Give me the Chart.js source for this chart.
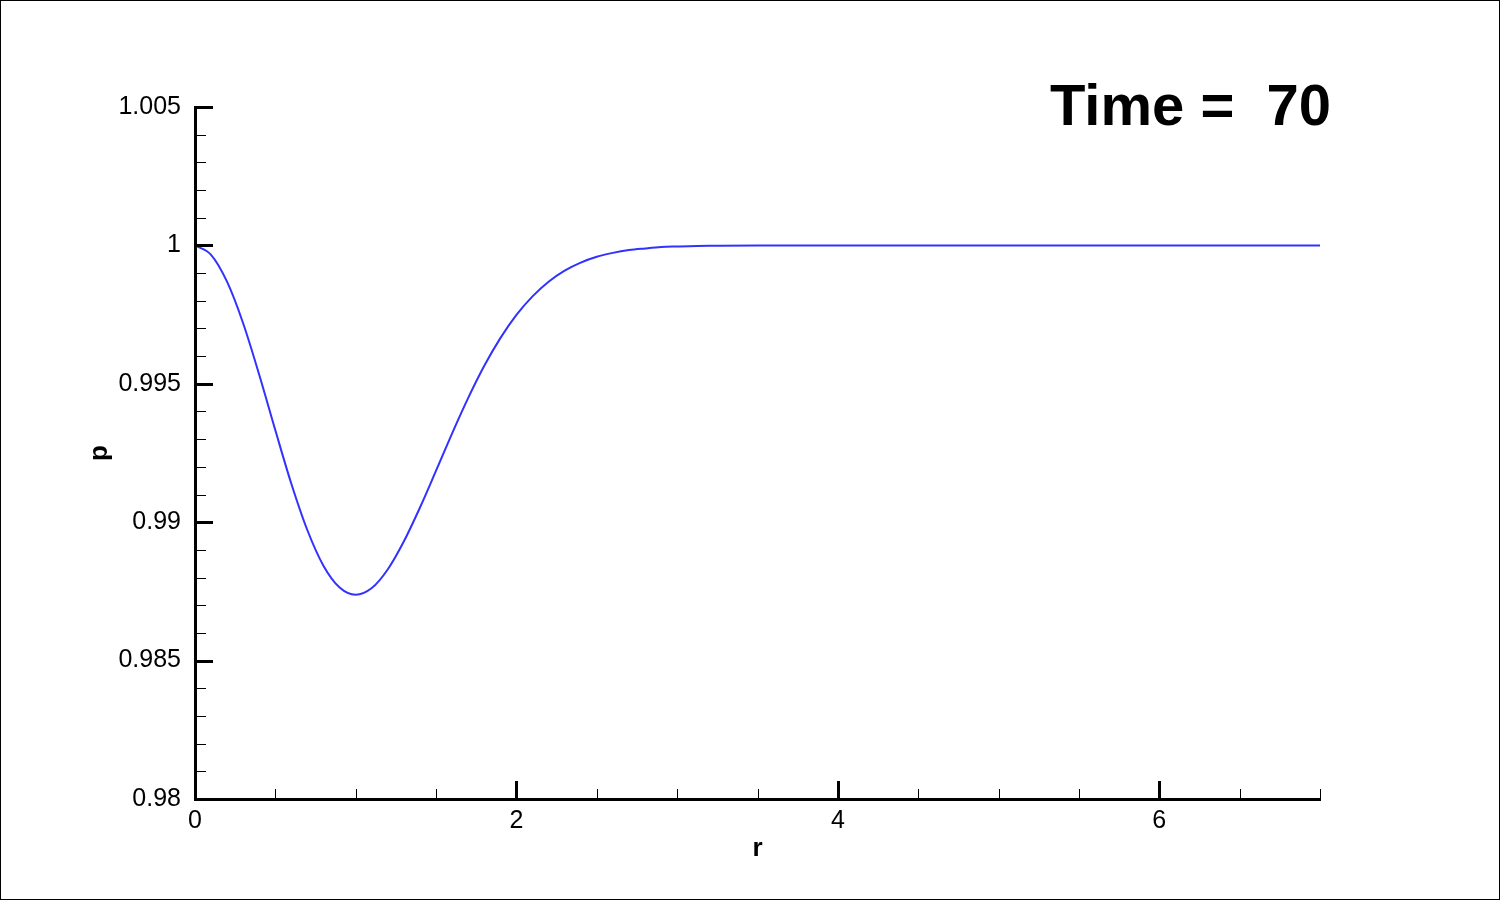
<!DOCTYPE html>
<html>
<head>
<meta charset="utf-8">
<script src="https://cdn.jsdelivr.net/npm/chart.js@4"></script>
<style>
  html, body { margin: 0; padding: 0; background: #fff; }
  #wrap { width: 1500px; height: 900px; }
</style>
</head>
<body>
<div id="wrap"><canvas id="chart" width="1500" height="900"></canvas></div>
<script>
// ---------------- DATA ----------------
const rValues = [0, 0.1, 0.2, 0.3, 0.4, 0.5, 0.6, 0.7, 0.8, 0.9,
  1.0, 1.1, 1.2, 1.3, 1.4, 1.5, 1.6, 1.7, 1.8, 1.9,
  2.0, 2.1, 2.2, 2.3, 2.4, 2.5, 2.6, 2.7, 2.8, 2.9,
  3.0, 3.2, 3.5, 4, 5, 6, 7];
const pValues = [1.0, 0.99966, 0.99868, 0.99718, 0.99532, 0.99332, 0.99138, 0.98970, 0.98842, 0.98764,
  0.98738, 0.98762, 0.98830, 0.98931, 0.99053, 0.99186, 0.99321, 0.99449, 0.99565, 0.99665,
  0.99749, 0.99816, 0.99869, 0.99909, 0.99938, 0.99959, 0.99973, 0.99983, 0.99989, 0.99994,
  0.99996, 0.99999, 1.0, 1.0, 1.0, 1.0, 1.0];

const xMajorTicks = [0, 2, 4, 6];
const xMinorTicks = [0.5, 1, 1.5, 2.5, 3, 3.5, 4.5, 5, 5.5, 6.5, 7];
const yMajorTicks = [0.98, 0.985, 0.99, 0.995, 1.0, 1.005];
const yMinorTicks = [0.981, 0.982, 0.983, 0.984, 0.986, 0.987, 0.988, 0.989,
  0.991, 0.992, 0.993, 0.994, 0.996, 0.997, 0.998, 0.999,
  1.001, 1.002, 1.003, 1.004];

const xTitle = 'r';
const yTitle = 'p';
const timeLabel = 'Time =  70';

const FONT = '"Liberation Sans", Arial, Helvetica, sans-serif';

// ---------------- PLUGINS ----------------
// inward major/minor tick marks, the time label and the outer frame
const decorPlugin = {
  id: 'decor',
  afterDraw(chart) {
    const ctx = chart.ctx;
    const xs = chart.scales.x;
    const ys = chart.scales.y;
    const area = chart.chartArea;
    ctx.save();
    ctx.strokeStyle = '#000';
    ctx.lineCap = 'butt';

    // y ticks
    yMinorTicks.forEach(v => {
      const y = Math.round(ys.getPixelForValue(v)) + 0.5;
      ctx.lineWidth = 1;
      ctx.beginPath(); ctx.moveTo(area.left, y); ctx.lineTo(area.left + 11, y); ctx.stroke();
    });
    yMajorTicks.forEach(v => {
      const y = Math.round(ys.getPixelForValue(v)) + 0.5;
      ctx.lineWidth = 3;
      ctx.beginPath(); ctx.moveTo(area.left, y); ctx.lineTo(area.left + 18, y); ctx.stroke();
    });

    // x ticks
    xMinorTicks.forEach(v => {
      const x = Math.round(xs.getPixelForValue(v)) + 0.5;
      ctx.lineWidth = 1;
      ctx.beginPath(); ctx.moveTo(x, area.bottom); ctx.lineTo(x, area.bottom - 10); ctx.stroke();
    });
    xMajorTicks.forEach(v => {
      const x = Math.round(xs.getPixelForValue(v)) + 0.5;
      ctx.lineWidth = 3;
      ctx.beginPath(); ctx.moveTo(x, area.bottom); ctx.lineTo(x, area.bottom - 18); ctx.stroke();
    });

    // time label
    ctx.fillStyle = '#000';
    ctx.font = 'bold 58px ' + FONT;
    ctx.textAlign = 'right';
    ctx.textBaseline = 'alphabetic';
    ctx.fillText(timeLabel, 1331, 125);

    // frame
    ctx.lineWidth = 1;
    ctx.strokeRect(0.5, 0.5, chart.width - 1, chart.height - 1);
    ctx.restore();
  }
};

const bgPlugin = {
  id: 'bg',
  beforeDraw(chart) {
    const ctx = chart.ctx;
    ctx.save();
    ctx.fillStyle = '#fff';
    ctx.fillRect(0, 0, chart.width, chart.height);
    ctx.restore();
  }
};

// ---------------- CHART ----------------
const points = rValues.map((r, i) => ({ x: r, y: pValues[i] }));

new Chart(document.getElementById('chart').getContext('2d'), {
  type: 'line',
  data: {
    datasets: [{
      label: 'p',
      data: points,
      borderColor: 'rgb(50, 50, 255)',
      borderWidth: 2,
      pointRadius: 0,
      fill: false,
      cubicInterpolationMode: 'monotone'
    }]
  },
  options: {
    responsive: false,
    animation: false,
    layout: { padding: { left: 0, top: 107, right: 180, bottom: 0 } },
    plugins: {
      legend: { display: false },
      tooltip: { enabled: false }
    },
    scales: {
      x: {
        type: 'linear',
        min: 0,
        max: 7,
        afterBuildTicks: s => { s.ticks = xMajorTicks.map(v => ({ value: v })); },
        afterFit: s => { s.height = 101; },
        grid: { display: false, drawTicks: false },
        border: { display: true, color: '#000', width: 3 },
        ticks: {
          color: '#000',
          padding: 7,
          maxRotation: 0,
          font: { family: FONT, size: 25 },
          callback: v => String(v)
        },
        title: {
          display: true,
          text: xTitle,
          color: '#000',
          font: { family: FONT, size: 26, weight: 'bold' },
          padding: { top: 0, bottom: 36 }
        }
      },
      y: {
        type: 'linear',
        min: 0.98,
        max: 1.005,
        afterBuildTicks: s => { s.ticks = yMajorTicks.map(v => ({ value: v })); },
        afterFit: s => { s.width = 195; },
        grid: { display: false, drawTicks: false },
        border: { display: true, color: '#000', width: 3 },
        ticks: {
          color: '#000',
          padding: 14,
          font: { family: FONT, size: 25 },
          callback: v => String(Number(v.toFixed(3)))
        },
        title: {
          display: true,
          text: yTitle,
          color: '#000',
          font: { family: FONT, size: 26, weight: 'bold' },
          padding: { top: 84, bottom: 0 }
        }
      }
    }
  },
  plugins: [bgPlugin, decorPlugin]
});
</script>
</body>
</html>
